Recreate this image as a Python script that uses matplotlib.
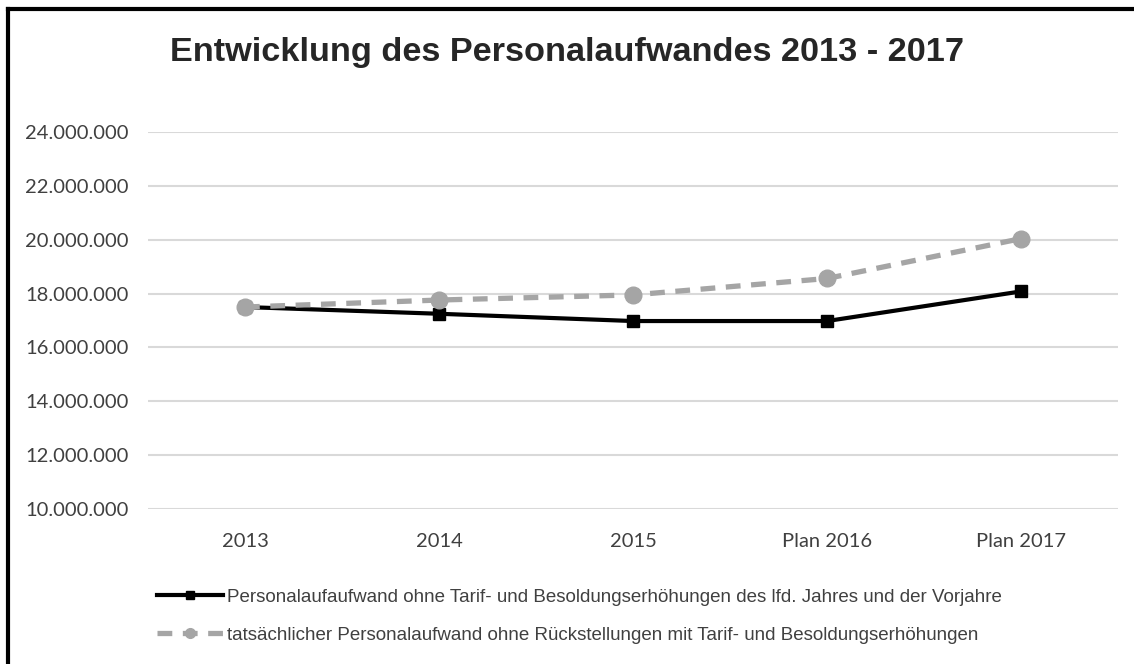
import numpy as np
import matplotlib.pyplot as plt
from matplotlib.lines import Line2D
from matplotlib.ticker import FuncFormatter

categories = ["2013", "2014", "2015", "Plan 2016", "Plan 2017"]
ohne_tarif = [17500000, 17250000, 16980000, 16980000, 18080000]
tatsaechlich = [17500000, 17760000, 17950000, 18560000, 20040000]
label_ohne = "Personalaufaufwand ohne Tarif- und Besoldungserhöhungen des lfd. Jahres und der Vorjahre"
label_tats = "tatsächlicher Personalaufwand ohne Rückstellungen mit Tarif- und Besoldungserhöhungen"
yticks = np.arange(10000000, 24000001, 2000000)

BLACK = 'black'
GRAY = '#A5A5A5'
DASH = (0, (2.8, 2.0))


def fmt(v, pos):
    return f"{int(v):,}".replace(",", ".")


fig = plt.figure(figsize=(11.34, 6.64), dpi=100)
ax = fig.add_axes([148 / 1134, 1 - 509 / 664, (1118 - 148) / 1134, (509 - 132) / 664])

x = np.arange(len(categories))
ax.plot(x, ohne_tarif, color=BLACK, linewidth=3, marker='s', markersize=9, zorder=3)
ax.plot(x, tatsaechlich, color=GRAY, linewidth=3.8, linestyle=DASH,
        marker='o', markersize=12, zorder=4)

ax.set_xlim(-0.5, len(categories) - 0.5)
ax.set_ylim(10000000, 24000000)
ax.set_yticks(yticks)
ax.yaxis.set_major_formatter(FuncFormatter(fmt))
ax.set_xticks(x)
ax.set_xticklabels(categories)
ax.grid(axis='y', color='#D9D9D9', linewidth=1.5)
ax.set_axisbelow(True)
for s in ax.spines.values():
    s.set_visible(False)
ax.tick_params(length=0, labelsize=14.5, labelcolor='#404040')
ax.tick_params(axis='y', pad=14)
ax.tick_params(axis='x', pad=17)
for t in ax.get_xticklabels() + ax.get_yticklabels():
    t.set_family('Lato')

fig.text(0.5, 1 - 52 / 664, "Entwicklung des Personalaufwandes 2013 - 2017",
         ha='center', va='center', fontsize=24.7, fontweight='bold',
         color='#262626', family='Liberation Sans')

# legend with small markers like the original
handles = [
    Line2D([], [], color=BLACK, linewidth=3, marker='s', markersize=6),
    Line2D([], [], color=GRAY, linewidth=3.8, linestyle=DASH, marker='o', markersize=7),
]
leg = fig.legend(handles, [label_ohne, label_tats], loc='upper left',
                 bbox_to_anchor=(140 / 1134, 1 - 572 / 664),
                 frameon=False, handlelength=3.5, handletextpad=0.25,
                 labelspacing=1.1, prop={'family': 'Liberation Sans', 'size': 13.5})
for t in leg.get_texts():
    t.set_color('#404040')

# outer frame (left and top edges only are visible)
fig.add_artist(Line2D([8 / 1134, 8 / 1134], [0, 1 - 9 / 664], color='black', linewidth=3))
fig.add_artist(Line2D([8 / 1134, 1], [1 - 9 / 664, 1 - 9 / 664], color='black', linewidth=3))

plt.savefig("out.png", dpi=100)
